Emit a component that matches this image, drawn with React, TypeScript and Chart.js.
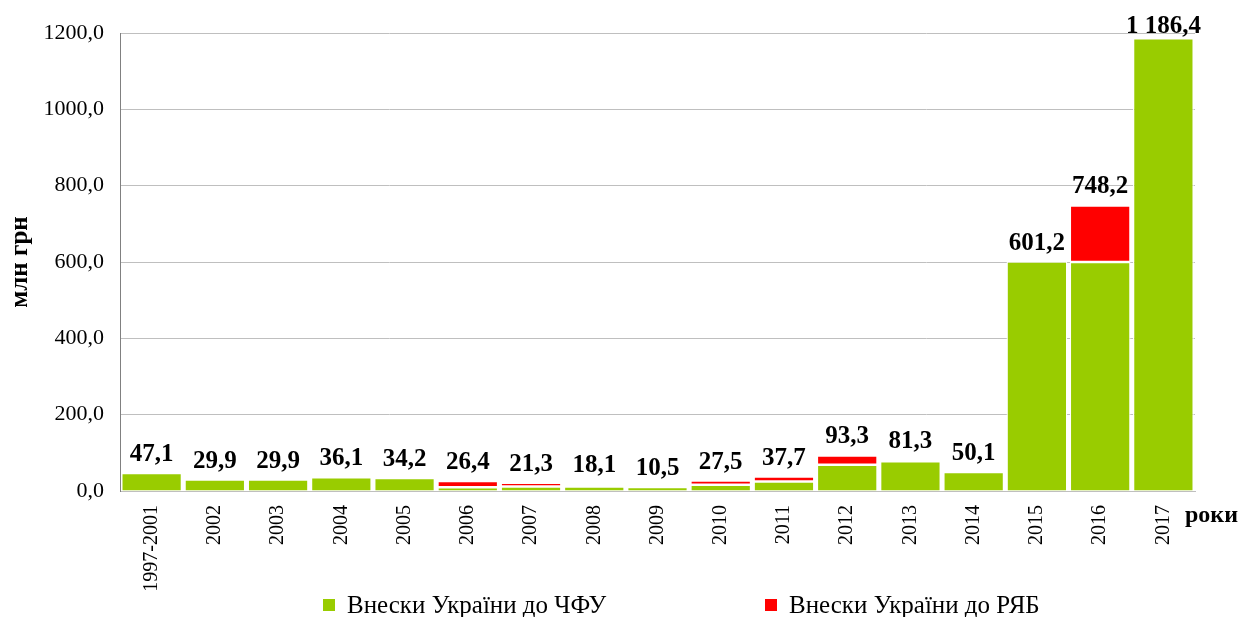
import React, { useEffect, useRef } from "react";
import { Chart, registerables } from "chart.js";

Chart.register(...registerables);

const categories = [
  "1997-2001", "2002", "2003", "2004", "2005", "2006", "2007", "2008", "2009",
  "2010", "2011", "2012", "2013", "2014", "2015", "2016", "2017",
];
const cfuValues = [47.1, 29.9, 29.9, 36.1, 34.2, 9.5, 12, 12, 10.5, 16.5, 25, 68.5, 78, 50.1, 601.2, 600, 1186.4];
const ryabValues = [null, null, null, null, null, 16.9, 9.3, null, null, 11, 12.7, 24.8, null, null, null, 148.2, null];
const totalLabels = [47.1, 29.9, 29.9, 36.1, 34.2, 26.4, 21.3, 18.1, 10.5, 27.5, 37.7, 93.3, 81.3, 50.1, 601.2, 748.2, 1186.4];
const seriesNames = ["Внески України до ЧФУ", "Внески України до РЯБ"];
const seriesColors = ["#99CC00", "#FF0000"];
const yMin = 0;
const yMax = 1200;
const yStep = 200;
const yTitle = "млн грн";
const xTitle = "роки";

const FONT = "'Liberation Serif', 'Times New Roman', serif";

function fmtTick(v: number): string {
  return v.toFixed(1).replace(".", ",");
}
function fmtLabel(v: number): string {
  const [i, d] = v.toFixed(1).split(".");
  return i.replace(/\B(?=(\d{3})+(?!\d))/g, " ") + "," + d;
}

const labelsPlugin = {
  id: "totalsLabels",
  afterDatasetsDraw(chart: any) {
    const { ctx, scales, chartArea } = chart;
    const meta = chart.getDatasetMeta(0);
    ctx.save();
    ctx.font = `bold 25px ${FONT}`;
    ctx.fillStyle = "#000";
    ctx.textAlign = "center";
    ctx.textBaseline = "alphabetic";
    totalLabels.forEach((v, i) => {
      const el = meta.data[i];
      if (!el) return;
      const y = scales.y.getPixelForValue(v) - 12;
      ctx.fillText(fmtLabel(v), el.x, Math.max(y, 33));
    });
    ctx.font = `bold 24px ${FONT}`;
    ctx.textAlign = "left";
    ctx.fillText(xTitle, chartArea.right - 10, chartArea.bottom + 31);
    ctx.restore();
  },
};

export default function App() {
  const ref = useRef<HTMLCanvasElement | null>(null);
  useEffect(() => {
    if (!ref.current) return;
    const chart = new Chart(ref.current, {
      type: "bar",
      data: {
        labels: categories,
        datasets: [
          {
            label: seriesNames[0],
            data: cfuValues,
            backgroundColor: seriesColors[0],
            borderColor: "#FFFFFF",
            borderWidth: 1.25,
            borderSkipped: "start",
            barPercentage: 0.96,
            categoryPercentage: 1,
          },
          {
            label: seriesNames[1],
            data: ryabValues as any,
            backgroundColor: seriesColors[1],
            borderColor: "#FFFFFF",
            borderWidth: 1.25,
            borderSkipped: false,
            barPercentage: 0.96,
            categoryPercentage: 1,
          },
        ],
      },
      options: {
        responsive: false,
        animation: false,
        devicePixelRatio: 1,
        layout: { padding: { left: 0, right: 45, top: 33, bottom: 0 } },
        plugins: {
          legend: { display: false },
          tooltip: { enabled: false },
        },
        scales: {
          x: {
            stacked: true,
            grid: { display: false, drawTicks: false },
            border: { display: true, color: "#BFBFBF", width: 1 },
            ticks: {
              color: "#000",
              font: { family: FONT, size: 20 },
              maxRotation: 90,
              minRotation: 90,
              padding: 14,
              autoSkip: false,
            },
            afterFit: (s: any) => {
              s.height = 126;
            },
          },
          y: {
            stacked: true,
            min: yMin,
            max: yMax,
            grid: { color: "#BFBFBF", drawTicks: false },
            border: { display: true, color: "#808080", width: 1 },
            ticks: {
              stepSize: yStep,
              color: "#000",
              font: { family: FONT, size: 22 },
              padding: 16,
              callback: (v: any) => fmtTick(Number(v)),
            },
            title: {
              display: true,
              text: yTitle,
              color: "#000",
              font: { family: FONT, size: 25, weight: "bold" },
              padding: { top: 6, bottom: 0 },
            },
            afterFit: (s: any) => {
              s.width = 120;
            },
          },
        },
      },
      plugins: [labelsPlugin],
    });
    return () => chart.destroy();
  }, []);

  return (
    <div style={{ position: "absolute", left: 0, top: 0, width: 1240, height: 617, background: "#fff" }}>
      <canvas ref={ref} width={1240} height={617} style={{ width: 1240, height: 617, display: "block" }} />
      {seriesNames.map((name, i) => (
        <div
          key={name}
          style={{
            position: "absolute",
            left: i === 0 ? 323 : 765,
            top: 592,
            display: "flex",
            alignItems: "center",
            fontFamily: FONT,
            fontSize: 25,
            color: "#000",
            whiteSpace: "nowrap",
            lineHeight: "26px",
          }}
        >
          <span style={{ display: "inline-block", width: 12, height: 12, background: seriesColors[i], marginRight: 12 }} />
          <span>{name}</span>
        </div>
      ))}
    </div>
  );
}
